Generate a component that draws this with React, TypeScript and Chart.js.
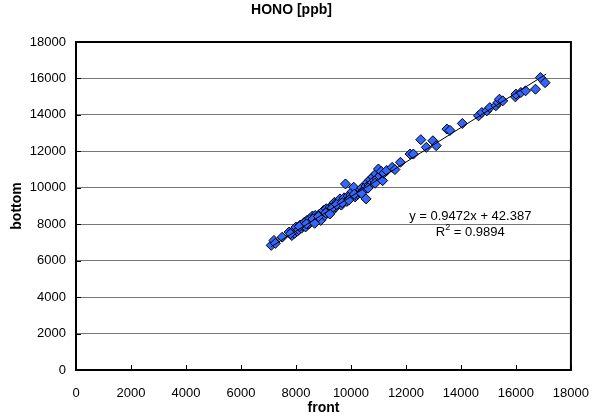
import { useEffect, useRef } from "react";
import { Chart, registerables } from "chart.js";

Chart.register(...registerables);

const frontValues = [
  7100, 7200, 7250, 7500, 7750, 7850, 7900, 7950, 8000, 8050, 8100, 8150, 8200, 8250, 8300, 8300,
  8350, 8400, 8450, 8500, 8500, 8550, 8600, 8650, 8700, 8750, 8800, 8850, 8900, 8950, 9000, 9050,
  9100, 9150, 9200, 9250, 9300, 9350, 9400, 9450, 9500, 9550, 9600, 9650, 9700, 9750, 9800, 9850,
  9900, 9950, 10000, 10050, 10100, 10150, 10200, 10250, 10300, 10350, 10400, 10450, 10550, 10550,
  10600, 10650, 10700, 10750, 10800, 10850, 10900, 10950, 11000, 11050, 11100, 11150, 11200, 11300,
  11500, 11600, 11800, 12150, 12270, 12540, 12740, 12980, 13100, 13490, 13600, 14050, 14640, 14760,
  14940, 15050, 15270, 15350, 15400, 15520, 15980, 16000, 16180, 16350, 16710, 16890, 17060,
  7800, 8120, 8380, 8620, 8820, 9080, 9320, 9480, 9680, 9920, 10120, 10380, 10620, 10880, 8680, 9230,
];

const bottomValues = [
  6840, 7110, 6950, 7290, 7570, 7380, 7650, 7500, 7840, 7620, 7700, 7950, 7780, 7900, 7930, 8100,
  7850, 8210, 8000, 8050, 8300, 8150, 8450, 8250, 8480, 8200, 8350, 8550, 8210, 8600, 8750, 8480,
  8850, 8650, 8800, 8940, 8700, 9050, 9200, 8950, 9210, 9100, 9390, 9050, 9300, 9450, 10210, 9250,
  9550, 9400, 9600, 9800, 10030, 9500, 9570, 9650, 9750, 9900, 10000, 9850, 9390, 10100,
  10300, 10150, 10450, 10250, 10600, 10400, 10760, 10500, 11030, 10650, 10900, 10390, 10800, 10950,
  11120, 11000, 11400, 11850, 11850, 12640, 12220, 12580, 12310, 13220, 13150, 13530, 13950, 14130,
  14220, 14400, 14500, 14680, 14860, 14770, 14990, 15140, 15230, 15320, 15410, 16050, 15770,
  7480, 7880, 8020, 8280, 8420, 8620, 8890, 9080, 9180, 9320, 9650, 9700, 9980, 10250, 8050, 8560,
];

const trendFront = [7100, 17100];
const trendBottom = [6767.5, 16239.5];

const axisTicks = [0, 2000, 4000, 6000, 8000, 10000, 12000, 14000, 16000, 18000];

const chartTitle = "HONO [ppb]";
const xTitle = "front";
const yTitle = "bottom";
const equationText = "y = 0.9472x + 42.387";
const r2Text = " = 0.9894";

const EQ_X = 14340;
const EQ_Y1 = 8425;
const EQ_Y2 = 7550;

const FONT = "'Liberation Sans', Arial, sans-serif";

export default function App() {
  const ref = useRef<HTMLCanvasElement>(null);

  useEffect(() => {
    document.body.style.margin = "0";
    const canvas = ref.current!;
    const points = frontValues.map((x, i) => ({ x, y: bottomValues[i] }));
    const trend = trendFront.map((x, i) => ({ x, y: trendBottom[i] }));

    const decor = {
      id: "decor",
      afterDraw(chart: any) {
        const { ctx, chartArea } = chart;
        const xs = chart.scales.x;
        const ys = chart.scales.y;
        ctx.save();
        ctx.strokeStyle = "#000";
        ctx.lineWidth = 1;
        ctx.beginPath();
        axisTicks.forEach((v) => {
          const px = Math.round(xs.getPixelForValue(v)) + 0.5;
          ctx.moveTo(px, chartArea.bottom);
          ctx.lineTo(px, chartArea.bottom - 5);
          const py = Math.round(ys.getPixelForValue(v)) + 0.5;
          ctx.moveTo(chartArea.left, py);
          ctx.lineTo(chartArea.left + 5, py);
        });
        ctx.stroke();
        ctx.lineWidth = 2;
        ctx.strokeRect(chartArea.left, chartArea.top, chartArea.right - chartArea.left, chartArea.bottom - chartArea.top);

        ctx.fillStyle = "#000";
        ctx.textBaseline = "middle";
        ctx.font = `13px ${FONT}`;
        ctx.textAlign = "center";
        const cx = xs.getPixelForValue(EQ_X);
        ctx.fillText(equationText, cx, ys.getPixelForValue(EQ_Y1));
        const y2 = ys.getPixelForValue(EQ_Y2);
        ctx.textAlign = "left";
        const wR = ctx.measureText("R").width;
        const wRest = ctx.measureText(r2Text).width;
        ctx.font = `9px ${FONT}`;
        const wSup = ctx.measureText("2").width;
        const total = wR + wSup + wRest;
        let sx = cx - total / 2;
        ctx.font = `13px ${FONT}`;
        ctx.fillText("R", sx, y2);
        sx += wR;
        ctx.font = `9px ${FONT}`;
        ctx.fillText("2", sx, y2 - 5);
        sx += wSup;
        ctx.font = `13px ${FONT}`;
        ctx.fillText(r2Text, sx, y2);
        ctx.restore();
      },
    };

    const tickFont = { family: FONT, size: 13 };
    const titleFont = { family: FONT, size: 14, weight: "bold" as const };
    const plainLabel = (v: any) => String(v);

    const chart = new Chart(canvas, {
      type: "scatter",
      data: {
        datasets: [
          {
            type: "line",
            data: trend,
            borderColor: "#000",
            borderWidth: 1,
            pointRadius: 0,
            fill: false,
            order: 0,
          } as any,
          {
            data: points,
            pointStyle: "rectRot",
            pointRadius: 5,
            pointHoverRadius: 5,
            backgroundColor: "#3366FF",
            borderColor: "#000",
            borderWidth: 1,
            order: 1,
          },
        ],
      },
      options: {
        animation: false,
        responsive: false,
        events: [],
        layout: { padding: { left: 0, right: 22, top: 0, bottom: 0 } },
        plugins: {
          legend: { display: false },
          tooltip: { enabled: false },
          title: {
            display: true,
            text: chartTitle,
            color: "#000",
            font: titleFont,
            padding: { top: 2, bottom: 23.2 },
          },
        },
        scales: {
          x: {
            type: "linear",
            min: 0,
            max: 18000,
            afterBuildTicks: (s: any) => {
              s.ticks = axisTicks.map((v) => ({ value: v }));
            },
            afterFit: (s: any) => {
              s.height = 47;
            },
            ticks: { font: tickFont, color: "#000", padding: 16, maxRotation: 0, autoSkip: false, callback: plainLabel },
            grid: { display: false, drawTicks: false },
            border: { display: false },
            title: { display: true, text: xTitle, color: "#000", font: titleFont, padding: { top: 0, bottom: 0 } },
          },
          y: {
            type: "linear",
            min: 0,
            max: 18000,
            afterBuildTicks: (s: any) => {
              s.ticks = axisTicks.map((v) => ({ value: v }));
            },
            afterFit: (s: any) => {
              s.width = 76;
            },
            ticks: { font: tickFont, color: "#000", padding: 10, autoSkip: false, callback: plainLabel },
            grid: { display: true, drawTicks: false, color: "#777", lineWidth: 1 },
            border: { display: false },
            title: { display: true, text: yTitle, color: "#000", font: titleFont, padding: { top: 9, bottom: 0 } },
          },
        },
      },
      plugins: [decor],
    });

    return () => chart.destroy();
  }, []);

  return (
    <div style={{ width: 605, height: 417, position: "relative" }}>
      <canvas ref={ref} width={605} height={417} style={{ display: "block" }} />
    </div>
  );
}
